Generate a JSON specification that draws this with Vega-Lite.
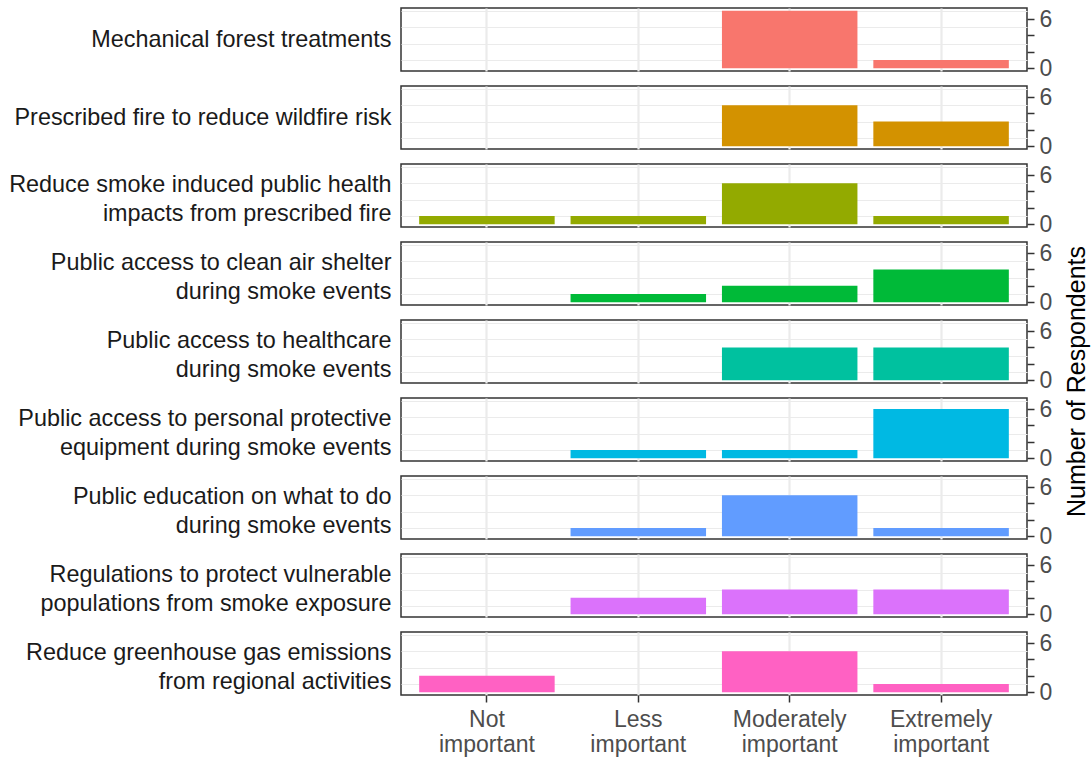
{
  "$schema": "https://vega.github.io/schema/vega-lite/v6.json",
  "background": "white",
  "padding": {"left": 7, "top": 7, "right": 2, "bottom": 2},
  "spacing": 15,
  "bounds": "flush",
  "config": {
    "font": "Liberation Sans",
    "view": {"stroke": "#333333", "strokeWidth": 1.5},
    "axisLeft": {
      "grid": true, "gridColor": "#EBEBEB", "gridWidth": 1.2,
      "labels": false, "ticks": false, "domain": false,
      "titleAngle": 0, "titleAlign": "right", "titleBaseline": "middle",
      "titleFont": "Liberation Sans", "titleFontSize": 23.4, "titleFontWeight": "normal",
      "titleColor": "#1A1A1A", "titleLineHeight": 29, "titleX": -10, "titleAnchor": "middle"
    },
    "axisRight": {
      "grid": true, "gridColor": "#EBEBEB", "gridWidth": 2.2,
      "domain": false, "tickColor": "#333333", "tickSize": 7, "tickWidth": 1.5,
      "labelFont": "Liberation Sans", "labelFontSize": 23, "labelColor": "#4D4D4D", "labelPadding": 5,
      "titleFont": "Liberation Sans", "titleFontSize": 25, "titleFontWeight": "normal", "titleColor": "#000000",
      "titleAngle": -90, "titleX": 49, "titleAlign": "center", "titleBaseline": "middle"
    },
    "axisBottom": {
      "grid": true, "gridColor": "#EBEBEB", "gridWidth": 2.2,
      "domain": false, "tickColor": "#333333", "tickSize": 7, "tickWidth": 1.5,
      "labelFont": "Liberation Sans", "labelFontSize": 23, "labelColor": "#4D4D4D", "labelPadding": 6,
      "labelLineHeight": 25, "labelAngle": 0, "bandPosition": 0.5
    }
  },
  "data": {
    "values": [
      {"item": "Mechanical forest treatments", "level": "Moderately important", "count": 7},
      {"item": "Mechanical forest treatments", "level": "Extremely important", "count": 1},
      {"item": "Prescribed fire to reduce wildfire risk", "level": "Moderately important", "count": 5},
      {"item": "Prescribed fire to reduce wildfire risk", "level": "Extremely important", "count": 3},
      {"item": "Reduce smoke induced public health impacts from prescribed fire", "level": "Not important", "count": 1},
      {"item": "Reduce smoke induced public health impacts from prescribed fire", "level": "Less important", "count": 1},
      {"item": "Reduce smoke induced public health impacts from prescribed fire", "level": "Moderately important", "count": 5},
      {"item": "Reduce smoke induced public health impacts from prescribed fire", "level": "Extremely important", "count": 1},
      {"item": "Public access to clean air shelter during smoke events", "level": "Less important", "count": 1},
      {"item": "Public access to clean air shelter during smoke events", "level": "Moderately important", "count": 2},
      {"item": "Public access to clean air shelter during smoke events", "level": "Extremely important", "count": 4},
      {"item": "Public access to healthcare during smoke events", "level": "Moderately important", "count": 4},
      {"item": "Public access to healthcare during smoke events", "level": "Extremely important", "count": 4},
      {"item": "Public access to personal protective equipment during smoke events", "level": "Less important", "count": 1},
      {"item": "Public access to personal protective equipment during smoke events", "level": "Moderately important", "count": 1},
      {"item": "Public access to personal protective equipment during smoke events", "level": "Extremely important", "count": 6},
      {"item": "Public education on what to do during smoke events", "level": "Less important", "count": 1},
      {"item": "Public education on what to do during smoke events", "level": "Moderately important", "count": 5},
      {"item": "Public education on what to do during smoke events", "level": "Extremely important", "count": 1},
      {"item": "Regulations to protect vulnerable populations from smoke exposure", "level": "Less important", "count": 2},
      {"item": "Regulations to protect vulnerable populations from smoke exposure", "level": "Moderately important", "count": 3},
      {"item": "Regulations to protect vulnerable populations from smoke exposure", "level": "Extremely important", "count": 3},
      {"item": "Reduce greenhouse gas emissions from regional activities", "level": "Not important", "count": 2},
      {"item": "Reduce greenhouse gas emissions from regional activities", "level": "Moderately important", "count": 5},
      {"item": "Reduce greenhouse gas emissions from regional activities", "level": "Extremely important", "count": 1}
    ]
  },
  "vconcat": [
    {
      "transform": [{"filter": "datum.item == 'Mechanical forest treatments'"}],
      "width": 626, "height": 63,
      "encoding": {"x": {"field": "level", "type": "nominal", "scale": {"domain": ["Not important", "Less important", "Moderately important", "Extremely important"], "paddingInner": 0.105, "paddingOuter": 0.12}, "axis": {"title": null, "labels": false, "ticks": false}}},
      "layer": [
        {"mark": {"type": "bar", "opacity": 0}, "encoding": {"y": {"field": "count", "type": "quantitative", "scale": {"domain": [-0.35, 7.35], "nice": false, "zero": false}, "axis": {"orient": "left", "values": [1, 3, 5, 7], "title": "Mechanical forest treatments"}}}},
        {"mark": "bar", "encoding": {
          "y": {"field": "count", "type": "quantitative", "scale": {"domain": [-0.35, 7.35], "nice": false, "zero": false}, "axis": {"orient": "right", "values": [0, 2, 4, 6], "labelExpr": "datum.value == 0 || datum.value == 6 ? datum.label : ''", "title": null}},
          "y2": {"datum": 0},
          "color": {"field": "item", "type": "nominal", "legend": null, "scale": {"domain": ["Mechanical forest treatments", "Prescribed fire to reduce wildfire risk", "Reduce smoke induced public health impacts from prescribed fire", "Public access to clean air shelter during smoke events", "Public access to healthcare during smoke events", "Public access to personal protective equipment during smoke events", "Public education on what to do during smoke events", "Regulations to protect vulnerable populations from smoke exposure", "Reduce greenhouse gas emissions from regional activities"], "range": ["#F8766D", "#D39200", "#93AA00", "#00BA38", "#00C19F", "#00B9E3", "#619CFF", "#DB72FB", "#FF61C3"]}}
        }}
      ],
      "resolve": {"axis": {"y": "independent"}}
    },
    {
      "transform": [{"filter": "datum.item == 'Prescribed fire to reduce wildfire risk'"}],
      "width": 626, "height": 63,
      "encoding": {"x": {"field": "level", "type": "nominal", "scale": {"domain": ["Not important", "Less important", "Moderately important", "Extremely important"], "paddingInner": 0.105, "paddingOuter": 0.12}, "axis": {"title": null, "labels": false, "ticks": false}}},
      "layer": [
        {"mark": {"type": "bar", "opacity": 0}, "encoding": {"y": {"field": "count", "type": "quantitative", "scale": {"domain": [-0.35, 7.35], "nice": false, "zero": false}, "axis": {"orient": "left", "values": [1, 3, 5, 7], "title": "Prescribed fire to reduce wildfire risk"}}}},
        {"mark": "bar", "encoding": {
          "y": {"field": "count", "type": "quantitative", "scale": {"domain": [-0.35, 7.35], "nice": false, "zero": false}, "axis": {"orient": "right", "values": [0, 2, 4, 6], "labelExpr": "datum.value == 0 || datum.value == 6 ? datum.label : ''", "title": null}},
          "y2": {"datum": 0},
          "color": {"field": "item", "type": "nominal", "legend": null}
        }}
      ],
      "resolve": {"axis": {"y": "independent"}}
    },
    {
      "transform": [{"filter": "datum.item == 'Reduce smoke induced public health impacts from prescribed fire'"}],
      "width": 626, "height": 63,
      "encoding": {"x": {"field": "level", "type": "nominal", "scale": {"domain": ["Not important", "Less important", "Moderately important", "Extremely important"], "paddingInner": 0.105, "paddingOuter": 0.12}, "axis": {"title": null, "labels": false, "ticks": false}}},
      "layer": [
        {"mark": {"type": "bar", "opacity": 0}, "encoding": {"y": {"field": "count", "type": "quantitative", "scale": {"domain": [-0.35, 7.35], "nice": false, "zero": false}, "axis": {"orient": "left", "values": [1, 3, 5, 7], "titleY": 20, "title": ["Reduce smoke induced public health", "impacts from prescribed fire"]}}}},
        {"mark": "bar", "encoding": {
          "y": {"field": "count", "type": "quantitative", "scale": {"domain": [-0.35, 7.35], "nice": false, "zero": false}, "axis": {"orient": "right", "values": [0, 2, 4, 6], "labelExpr": "datum.value == 0 || datum.value == 6 ? datum.label : ''", "title": null}},
          "y2": {"datum": 0},
          "color": {"field": "item", "type": "nominal", "legend": null}
        }}
      ],
      "resolve": {"axis": {"y": "independent"}}
    },
    {
      "transform": [{"filter": "datum.item == 'Public access to clean air shelter during smoke events'"}],
      "width": 626, "height": 63,
      "encoding": {"x": {"field": "level", "type": "nominal", "scale": {"domain": ["Not important", "Less important", "Moderately important", "Extremely important"], "paddingInner": 0.105, "paddingOuter": 0.12}, "axis": {"title": null, "labels": false, "ticks": false}}},
      "layer": [
        {"mark": {"type": "bar", "opacity": 0}, "encoding": {"y": {"field": "count", "type": "quantitative", "scale": {"domain": [-0.35, 7.35], "nice": false, "zero": false}, "axis": {"orient": "left", "values": [1, 3, 5, 7], "titleY": 20, "title": ["Public access to clean air shelter", "during smoke events"]}}}},
        {"mark": "bar", "encoding": {
          "y": {"field": "count", "type": "quantitative", "scale": {"domain": [-0.35, 7.35], "nice": false, "zero": false}, "axis": {"orient": "right", "values": [0, 2, 4, 6], "labelExpr": "datum.value == 0 || datum.value == 6 ? datum.label : ''", "title": null}},
          "y2": {"datum": 0},
          "color": {"field": "item", "type": "nominal", "legend": null}
        }}
      ],
      "resolve": {"axis": {"y": "independent"}}
    },
    {
      "transform": [{"filter": "datum.item == 'Public access to healthcare during smoke events'"}],
      "width": 626, "height": 63,
      "encoding": {"x": {"field": "level", "type": "nominal", "scale": {"domain": ["Not important", "Less important", "Moderately important", "Extremely important"], "paddingInner": 0.105, "paddingOuter": 0.12}, "axis": {"title": null, "labels": false, "ticks": false}}},
      "layer": [
        {"mark": {"type": "bar", "opacity": 0}, "encoding": {"y": {"field": "count", "type": "quantitative", "scale": {"domain": [-0.35, 7.35], "nice": false, "zero": false}, "axis": {"orient": "left", "values": [1, 3, 5, 7], "titleY": 20, "title": ["Public access to healthcare", "during smoke events"]}}}},
        {"mark": "bar", "encoding": {
          "y": {"field": "count", "type": "quantitative", "scale": {"domain": [-0.35, 7.35], "nice": false, "zero": false}, "axis": {"orient": "right", "values": [0, 2, 4, 6], "labelExpr": "datum.value == 0 || datum.value == 6 ? datum.label : ''", "title": "Number of Respondents", "titleY": 61}},
          "y2": {"datum": 0},
          "color": {"field": "item", "type": "nominal", "legend": null}
        }}
      ],
      "resolve": {"axis": {"y": "independent"}}
    },
    {
      "transform": [{"filter": "datum.item == 'Public access to personal protective equipment during smoke events'"}],
      "width": 626, "height": 63,
      "encoding": {"x": {"field": "level", "type": "nominal", "scale": {"domain": ["Not important", "Less important", "Moderately important", "Extremely important"], "paddingInner": 0.105, "paddingOuter": 0.12}, "axis": {"title": null, "labels": false, "ticks": false}}},
      "layer": [
        {"mark": {"type": "bar", "opacity": 0}, "encoding": {"y": {"field": "count", "type": "quantitative", "scale": {"domain": [-0.35, 7.35], "nice": false, "zero": false}, "axis": {"orient": "left", "values": [1, 3, 5, 7], "titleY": 20, "title": ["Public access to personal protective", "equipment during smoke events"]}}}},
        {"mark": "bar", "encoding": {
          "y": {"field": "count", "type": "quantitative", "scale": {"domain": [-0.35, 7.35], "nice": false, "zero": false}, "axis": {"orient": "right", "values": [0, 2, 4, 6], "labelExpr": "datum.value == 0 || datum.value == 6 ? datum.label : ''", "title": null}},
          "y2": {"datum": 0},
          "color": {"field": "item", "type": "nominal", "legend": null}
        }}
      ],
      "resolve": {"axis": {"y": "independent"}}
    },
    {
      "transform": [{"filter": "datum.item == 'Public education on what to do during smoke events'"}],
      "width": 626, "height": 63,
      "encoding": {"x": {"field": "level", "type": "nominal", "scale": {"domain": ["Not important", "Less important", "Moderately important", "Extremely important"], "paddingInner": 0.105, "paddingOuter": 0.12}, "axis": {"title": null, "labels": false, "ticks": false}}},
      "layer": [
        {"mark": {"type": "bar", "opacity": 0}, "encoding": {"y": {"field": "count", "type": "quantitative", "scale": {"domain": [-0.35, 7.35], "nice": false, "zero": false}, "axis": {"orient": "left", "values": [1, 3, 5, 7], "titleY": 20, "title": ["Public education on what to do", "during smoke events"]}}}},
        {"mark": "bar", "encoding": {
          "y": {"field": "count", "type": "quantitative", "scale": {"domain": [-0.35, 7.35], "nice": false, "zero": false}, "axis": {"orient": "right", "values": [0, 2, 4, 6], "labelExpr": "datum.value == 0 || datum.value == 6 ? datum.label : ''", "title": null}},
          "y2": {"datum": 0},
          "color": {"field": "item", "type": "nominal", "legend": null}
        }}
      ],
      "resolve": {"axis": {"y": "independent"}}
    },
    {
      "transform": [{"filter": "datum.item == 'Regulations to protect vulnerable populations from smoke exposure'"}],
      "width": 626, "height": 63,
      "encoding": {"x": {"field": "level", "type": "nominal", "scale": {"domain": ["Not important", "Less important", "Moderately important", "Extremely important"], "paddingInner": 0.105, "paddingOuter": 0.12}, "axis": {"title": null, "labels": false, "ticks": false}}},
      "layer": [
        {"mark": {"type": "bar", "opacity": 0}, "encoding": {"y": {"field": "count", "type": "quantitative", "scale": {"domain": [-0.35, 7.35], "nice": false, "zero": false}, "axis": {"orient": "left", "values": [1, 3, 5, 7], "titleY": 20, "title": ["Regulations to protect vulnerable", "populations from smoke exposure"]}}}},
        {"mark": "bar", "encoding": {
          "y": {"field": "count", "type": "quantitative", "scale": {"domain": [-0.35, 7.35], "nice": false, "zero": false}, "axis": {"orient": "right", "values": [0, 2, 4, 6], "labelExpr": "datum.value == 0 || datum.value == 6 ? datum.label : ''", "title": null}},
          "y2": {"datum": 0},
          "color": {"field": "item", "type": "nominal", "legend": null}
        }}
      ],
      "resolve": {"axis": {"y": "independent"}}
    },
    {
      "transform": [{"filter": "datum.item == 'Reduce greenhouse gas emissions from regional activities'"}],
      "width": 626, "height": 63,
      "encoding": {"x": {"field": "level", "type": "nominal", "scale": {"domain": ["Not important", "Less important", "Moderately important", "Extremely important"], "paddingInner": 0.105, "paddingOuter": 0.12}, "axis": {"title": null, "labelExpr": "split(datum.value, ' ')"}}},
      "layer": [
        {"mark": {"type": "bar", "opacity": 0}, "encoding": {"y": {"field": "count", "type": "quantitative", "scale": {"domain": [-0.35, 7.35], "nice": false, "zero": false}, "axis": {"orient": "left", "values": [1, 3, 5, 7], "titleY": 20, "title": ["Reduce greenhouse gas emissions", "from regional activities"]}}}},
        {"mark": "bar", "encoding": {
          "y": {"field": "count", "type": "quantitative", "scale": {"domain": [-0.35, 7.35], "nice": false, "zero": false}, "axis": {"orient": "right", "values": [0, 2, 4, 6], "labelExpr": "datum.value == 0 || datum.value == 6 ? datum.label : ''", "title": null}},
          "y2": {"datum": 0},
          "color": {"field": "item", "type": "nominal", "legend": null}
        }}
      ],
      "resolve": {"axis": {"y": "independent"}}
    }
  ]
}
